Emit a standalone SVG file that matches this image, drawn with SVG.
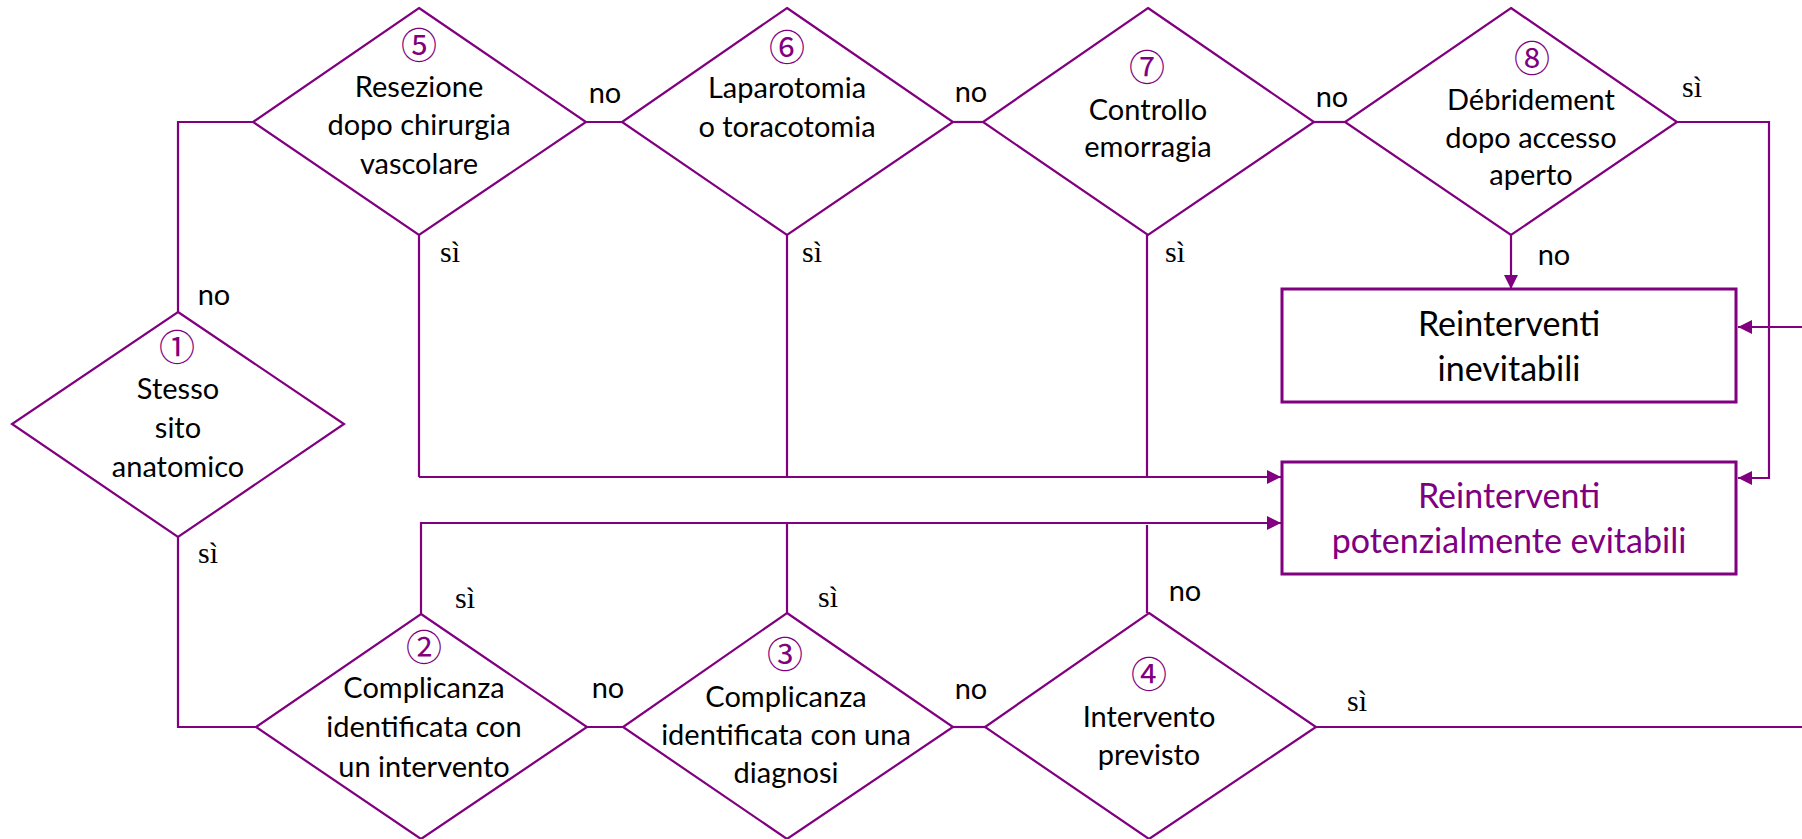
<svg xmlns="http://www.w3.org/2000/svg" width="1802" height="839" viewBox="0 0 1802 839">
<style>
.d{fill:#fff;stroke:#800080;stroke-width:2.2}
.b{fill:#fff;stroke:#800080;stroke-width:3}
.c{fill:none;stroke:#800080;stroke-width:2.2}
.t{font-family:Lato,"Liberation Sans",sans-serif;font-size:29px;fill:#000;text-anchor:middle}
.bt{font-family:Lato,"Liberation Sans",sans-serif;font-size:34px;fill:#000;text-anchor:middle}
.p{fill:#800080}
.n{font-family:"Noto Sans CJK SC","DejaVu Sans",sans-serif;font-size:36px;fill:#800080;text-anchor:middle;dominant-baseline:central}
.l{font-family:Lato,"Liberation Sans",sans-serif;font-size:29px;fill:#000;text-anchor:middle}
.s{font-family:"Liberation Serif",serif;font-size:30px;fill:#000;text-anchor:middle}
</style>
<defs>
<marker id="arr" markerWidth="14" markerHeight="14" refX="14" refY="7" orient="auto" markerUnits="userSpaceOnUse"><path d="M0,0 L14,7 L0,14 z" fill="#800080"/></marker>
</defs>
<g id="connectors">
<path class="c" d="M178,312 V122 H253"/>
<path class="c" d="M178,537 V727 H256"/>
<path class="c" d="M586,122 H622"/>
<path class="c" d="M953,122 H983"/>
<path class="c" d="M1314,122 H1345"/>
<path class="c" d="M1677,122 H1769 V478 H1738" marker-end="url(#arr)"/>
<path class="c" d="M1511,235 V289" marker-end="url(#arr)"/>
<path class="c" d="M419,235 V477"/>
<path class="c" d="M787,235 V477"/>
<path class="c" d="M1147,235 V477"/>
<path class="c" d="M419,477 H1281" marker-end="url(#arr)"/>
<path class="c" d="M421,614 V523 H1281" marker-end="url(#arr)"/>
<path class="c" d="M787,613 V523"/>
<path class="c" d="M1147,613 V525"/>
<path class="c" d="M587,727 H623"/>
<path class="c" d="M953,727 H985"/>
<path class="c" d="M1316,727 H1830 V327 H1738" marker-end="url(#arr)"/>
<text class="l" x="214" y="305">no</text>
<text class="s" x="208" y="563">sì</text>
<text class="l" x="605" y="103">no</text>
<text class="l" x="971" y="102">no</text>
<text class="l" x="1332" y="107">no</text>
<text class="s" x="1692" y="97">sì</text>
<text class="l" x="1554" y="265">no</text>
<text class="s" x="450" y="262">sì</text>
<text class="s" x="812" y="262">sì</text>
<text class="s" x="1175" y="262">sì</text>
<text class="s" x="465" y="608">sì</text>
<text class="s" x="828" y="607">sì</text>
<text class="l" x="1185" y="601">no</text>
<text class="l" x="608" y="698">no</text>
<text class="l" x="971" y="699">no</text>
<text class="s" x="1357" y="711">sì</text>
</g>
<g id="d1">
<polygon class="d" points="178,312 344,424 178,537 12,424"/>
<text class="n" x="177" y="345">①</text>
<text class="t" x="178" y="399">Stesso</text>
<text class="t" x="178" y="438">sito</text>
<text class="t" x="178" y="477">anatomico</text>
</g>
<g id="d2">
<polygon class="d" points="421,614 587,727 421,839 256,727"/>
<text class="n" x="424" y="645">②</text>
<text class="t" x="424" y="698">Complicanza</text>
<text class="t" x="424" y="737">identificata con</text>
<text class="t" x="424" y="777">un intervento</text>
</g>
<g id="d3">
<polygon class="d" points="787,613 953,727 787,839 623,727"/>
<text class="n" x="785" y="652">③</text>
<text class="t" x="786" y="707">Complicanza</text>
<text class="t" x="786" y="745">identificata con una</text>
<text class="t" x="786" y="783">diagnosi</text>
</g>
<g id="d4">
<polygon class="d" points="1149,613 1316,727 1149,839 985,727"/>
<text class="n" x="1149" y="672">④</text>
<text class="t" x="1149" y="727">Intervento</text>
<text class="t" x="1149" y="765">previsto</text>
</g>
<g id="d5">
<polygon class="d" points="419,8 586,122 419,235 253,122"/>
<text class="n" x="419" y="43">⑤</text>
<text class="t" x="419" y="97">Resezione</text>
<text class="t" x="419" y="135">dopo chirurgia</text>
<text class="t" x="419" y="174">vascolare</text>
</g>
<g id="d6">
<polygon class="d" points="787,8 953,122 787,235 622,122"/>
<text class="n" x="787" y="45">⑥</text>
<text class="t" x="787" y="98">Laparotomia</text>
<text class="t" x="787" y="137">o toracotomia</text>
</g>
<g id="d7">
<polygon class="d" points="1148,8 1314,122 1148,235 983,122"/>
<text class="n" x="1147" y="65">⑦</text>
<text class="t" x="1148" y="120">Controllo</text>
<text class="t" x="1148" y="157">emorragia</text>
</g>
<g id="d8">
<polygon class="d" points="1511,8 1677,122 1511,235 1345,122"/>
<text class="n" x="1532" y="56">⑧</text>
<text class="t" x="1531" y="110">Débridement</text>
<text class="t" x="1531" y="148">dopo accesso</text>
<text class="t" x="1531" y="185">aperto</text>
</g>
<g id="box1">
<rect class="b" x="1282" y="289" width="454" height="113"/>
<text class="bt" x="1509" y="336">Reinterventi</text>
<text class="bt" x="1509" y="381">inevitabili</text>
</g>
<g id="box2">
<rect class="b" x="1282" y="462" width="454" height="112"/>
<text class="bt p" x="1509" y="508">Reinterventi</text>
<text class="bt p" x="1509" y="553">potenzialmente evitabili</text>
</g>
</svg>
